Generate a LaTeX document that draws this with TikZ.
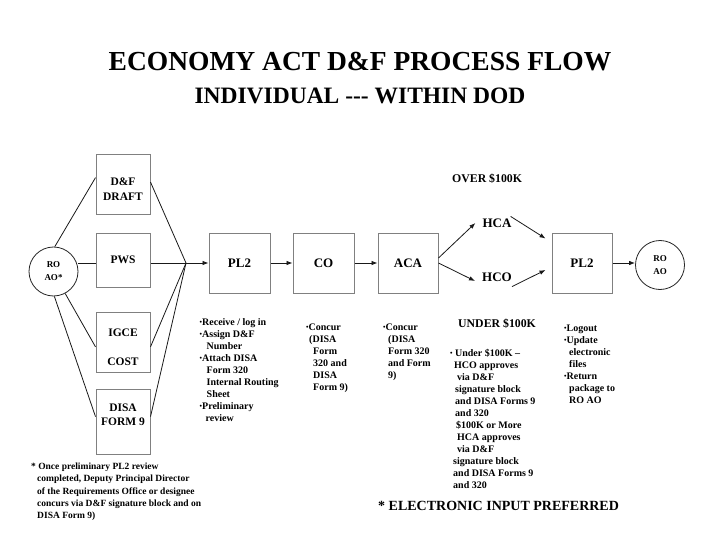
\documentclass[tikz,border=0pt]{standalone}
\usepackage{fontspec}
\setmainfont{Liberation Serif}
\usetikzlibrary{arrows.meta,calc}
\newcommand{\notelines}[1]{\begin{tabular}[t]{@{}l@{}}#1\end{tabular}}
\newcommand{\ind}[1]{\hspace*{#1pt}}
\newcommand{\bul}{\raisebox{0.8pt}{\fontsize{7}{7}\selectfont •}}
\definecolor{boxgray}{RGB}{128,128,128}
\tikzset{
  box/.style={draw=boxgray, line width=1pt, inner sep=0pt, minimum width=#1},
  box/.default=54pt,
  boxlbl/.style={font=\bfseries\fontsize{11.5}{14.5}\selectfont, align=center, inner sep=0pt},
  mainlbl/.style={font=\bfseries\fontsize{13}{15}\selectfont},
  ring/.style={circle, draw=black!85, line width=0.8pt, minimum size=49pt, inner sep=0pt,
    font=\bfseries\fontsize{9}{13}\selectfont, align=center},
  conn/.style={draw=black!90, line width=0.8pt},
  arr/.style={conn, -{Latex[length=6pt,width=4.5pt]}},
  notes/.style={anchor=base west, inner sep=0pt, font=\bfseries\fontsize{10}{12}\selectfont},
  hlbl/.style={font=\bfseries\fontsize{13}{15}\selectfont, inner xsep=7pt, inner ysep=2pt}
}
\begin{document}
\begin{tikzpicture}[x=1pt,y=-1pt]
\fill[white] (0,0) rectangle (720,540);
\useasboundingbox (0,0) rectangle (720,540);

% titles
\node[font=\bfseries\fontsize{27.5}{30}\selectfont, inner sep=0pt] (title) at (360,62) {ECONOMY ACT D\&F PROCESS FLOW};
\node[font=\bfseries\fontsize{23.5}{26}\selectfont, inner sep=0pt] (subtitle) at (360,96) {INDIVIDUAL -{}-{}- WITHIN DOD};

% left circle
\node[ring] (roao) at (53.5,271.5) {RO\\AO*};

% left boxes
\node[box, minimum height=60pt] (dfdraft) at (123,185) {};
\node[boxlbl] (dftext) at (123,189) {D\&F\\DRAFT};
\node[box, minimum height=54pt, boxlbl] (pws) at (123,260) {PWS};
\node[box, minimum height=60pt] (igce) at (123,342) {};
\node[boxlbl] (igcetext) at (123,347.5) {IGCE\\[14.5pt]COST};
\node[box, minimum height=65pt] (disa) at (123,421.5) {};
\node[boxlbl] (disatext) at (123,414.5) {DISA\\FORM 9};

\coordinate (conv) at (186,263);

% main row
\node[box=61pt, minimum height=60pt, mainlbl] (pl2) at (239.5,263) {PL2};
\node[box=61pt, minimum height=60pt, mainlbl] (co) at (323.5,263) {CO};
\node[box=60pt, minimum height=60pt, mainlbl] (aca) at (408,263) {ACA};
\node[hlbl] (hca) at (497,223) {HCA};
\node[hlbl] (hco) at (497,277) {HCO};
\node[box=60pt, minimum height=60pt, mainlbl] (pl2b) at (582,263) {PL2};
\node[ring] (roao2) at (660,265) {RO\\AO};

% connectors from left circle
\draw[conn] (roao.87) -- (dfdraft.165);
\draw[conn] (roao.east |- conv) -- (pws.west |- conv);
\draw[conn] (roao.-62) -- (igce.190);
\draw[conn] (roao.-88) -- (disa.170);

% converging lines
\draw[conn] (dfdraft.6) -- (conv);
\draw[conn] (pws.east |- conv) -- (conv);
\draw[conn] (igce.-10) -- (conv);
\draw[conn] (disa.10) -- (conv);

% arrows
\draw[arr] (conv) -- (pl2.west);
\draw[arr] (pl2.east) -- (co.west);
\draw[arr] (co.east) -- (aca.west);
\draw[arr] ([yshift=5pt]aca.east) -- (hca.west);
\draw[arr] (aca.east) -- ([yshift=-4pt]hco.west);
\draw[arr] ([xshift=-8pt]hca.north east) -- ([xshift=-6pt,yshift=-6pt]pl2b.north west);
\draw[arr] ([xshift=-7pt,yshift=-3pt]hco.south east) -- ([xshift=-6pt,yshift=-7pt]pl2b.west);
\draw[arr] (pl2b.east) -- (pl2b.east -| roao2.west);

% labels
\node[anchor=base west, inner sep=0pt, font=\bfseries\fontsize{11.8}{14}\selectfont] (over) at (452,183) {OVER \$100K};
\node[anchor=base west, inner sep=0pt, font=\bfseries\fontsize{11.8}{14}\selectfont] (under) at (458,327) {UNDER \$100K};

% notes
\node[notes] (pl2notes) at (199.5,325.5) {\notelines{%
\bul Receive / log in\\
\bul Assign D\&F\\
\ind{7}Number\\
\bul Attach DISA\\
\ind{7}Form 320\\
\ind{7}Internal Routing\\
\ind{7}Sheet\\
\bul Preliminary\\
\ind{6}review}};

\node[notes] (conotes) at (306,330.5) {\notelines{%
\bul Concur\\
\ind{3}(DISA\\
\ind{7}Form\\
\ind{7}320 and\\
\ind{7}DISA\\
\ind{7}Form 9)}};

\node[notes] (acanotes) at (383,330.5) {\notelines{%
\bul Concur\\
\ind{5}(DISA\\
\ind{5}Form 320\\
\ind{5}and Form\\
\ind{5}9)}};

\node[notes] (undernotes) at (450,356.5) {\notelines{%
\bul{} Under \$100K –\\
\ind{4}HCO approves\\
\ind{7}via D\&F\\
\ind{5}signature block\\
\ind{5}and DISA Forms 9\\
\ind{5}and 320\\
\ind{6}\$100K or More\\
\ind{7}HCA approves\\
\ind{7}via D\&F\\
\ind{3}signature block\\
\ind{3}and DISA Forms 9\\
\ind{3}and 320}};

\node[notes] (pl2bnotes) at (564,331.5) {\notelines{%
\bul Logout\\
\bul Update\\
\ind{5}electronic\\
\ind{5}files\\
\bul Return\\
\ind{5}package to\\
\ind{5}RO AO}};

\node[notes, font=\bfseries\fontsize{9.5}{12.25}\selectfont] (footnote) at (31,469.5) {\notelines{%
* Once preliminary PL2 review\\
\ind{6}completed, Deputy Principal Director\\
\ind{6}of the Requirements Office or designee\\
\ind{6}concurs via D\&F signature block and on\\
\ind{6}DISA Form 9)}};

\node[anchor=base west, inner sep=0pt, font=\bfseries\fontsize{14}{16}\selectfont] (electronic) at (378,510) {* ELECTRONIC INPUT PREFERRED};
\end{tikzpicture}
\end{document}
